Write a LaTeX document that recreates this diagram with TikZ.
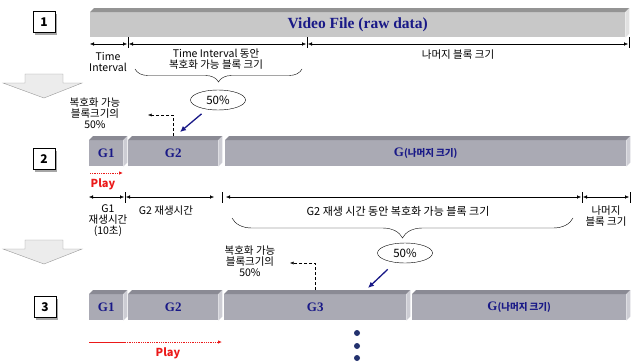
\documentclass[tikz,border=0pt]{standalone}
\usepackage{fontspec}
\setmainfont{Noto Sans CJK KR}
\newfontfamily\tms{Liberation Serif}
\usepackage{xcolor}
\usepackage{tikz}
\usetikzlibrary{shapes.geometric,arrows.meta,decorations.pathreplacing,shadows}
\definecolor{navy}{RGB}{25,25,135}
\definecolor{dotblue}{RGB}{35,50,110}
\definecolor{playred}{RGB}{235,25,25}
\definecolor{barfront}{RGB}{200,200,200}
\definecolor{bartop}{RGB}{148,148,148}
\definecolor{barside}{RGB}{225,225,225}
\definecolor{blkfront}{RGB}{170,170,180}
\definecolor{blktop}{RGB}{138,138,148}
\definecolor{blkside}{RGB}{205,205,212}
\tikzset{
  numbox/.style={draw, fill=white, minimum width=22pt, minimum height=21pt, inner sep=0pt, font=\bfseries\fontsize{12}{12}\selectfont, drop shadow={shadow xshift=2pt, shadow yshift=-2pt, fill=black!35, opacity=1}},
  vbar/.style={fill=barfront, anchor=north west, minimum width=535pt, minimum height=25pt, inner sep=0pt, text=navy, font=\tms\bfseries\fontsize{15.5}{16}\selectfont},
  blk/.style={fill=blkfront, anchor=north west, minimum height=26pt, inner sep=0pt, text=navy, font=\tms\bfseries\fontsize{13}{13}\selectfont},
  note/.style={align=center, inner sep=1pt, font=\fontsize{10.5}{11}\selectfont},
  pct/.style={ellipse, draw, minimum width=55pt, minimum height=20pt, inner sep=0pt, font=\fontsize{11.5}{12}\selectfont},
  dim/.style={{Latex[length=4pt,width=3.5pt]}-{Latex[length=4pt,width=3.5pt]}, thin},
  brc/.style={decorate, decoration={brace, mirror, amplitude=#1}, thin},
  bluearr/.style={navy, line width=1.3pt, -{Latex[length=6pt,width=5.5pt]}},
  dsh/.style={densely dashed, -{Latex[length=3.5pt,width=3pt]}},
  play/.style={playred, thick, -{Latex[length=4pt,width=3.5pt]}},
  playtxt/.style={playred, inner sep=1pt, font=\bfseries\fontsize{11}{11}\selectfont},
  bigarr/.style={draw=gray!80, fill=gray!15},
  dot/.style={circle, fill=dotblue, minimum size=6pt, inner sep=0pt}
}
\newcommand{\rest}{{\rmfamily\bfseries\fontsize{9.5}{10}\selectfont(나머지 크기)}}
\begin{document}
\begin{tikzpicture}[x=1pt,y=-1pt]
\useasboundingbox (0,0) rectangle (631,362);

% step numbers
\node[numbox] (n1) at (44,22) {1};
\node[numbox] (n2) at (44,159) {2};
\node[numbox] (n3) at (45,307) {3};

% hollow down arrows
\foreach \yy in {74,240}
  \filldraw[bigarr] (25,\yy) -- ++(38,0) -- ++(0,9) -- ++(19,0) -- ++(-38,15) -- ++(-41,-15) -- ++(22,0) -- cycle;

% raw file bar
\node[vbar] (vid) at (90,12) {Video File (raw data)};
\fill[bartop] (vid.north west) -- ([xshift=4pt,yshift=4pt]vid.north west) -- ([xshift=4pt,yshift=4pt]vid.north east) -- (vid.north east) -- cycle;
\fill[barside] (vid.north east) -- ([xshift=4pt,yshift=4pt]vid.north east) -- ([xshift=4pt,yshift=4pt]vid.south east) -- (vid.south east) -- cycle;

% blocks of step 2 and 3
\node[blk, minimum width=34pt] (a1) at (89,140) {G1};
\node[blk, minimum width=90pt] (a2) at (128,140) {G2};
\node[blk, minimum width=401pt] (a3) at (225,140) {G\rest};
\node[blk, minimum width=34pt] (b1) at (89,294) {G1};
\node[blk, minimum width=90pt] (b2) at (128,294) {G2};
\node[blk, minimum width=182pt] (b3) at (224,294) {G3};
\node[blk, minimum width=214pt] (b4) at (412,294) {G\rest};
\foreach \b in {a1,a2,a3,b1,b2,b3,b4}{
  \fill[blktop] (\b.north west) -- ([xshift=4pt,yshift=4pt]\b.north west) -- ([xshift=4pt,yshift=4pt]\b.north east) -- (\b.north east) -- cycle;
  \fill[blkside] (\b.north east) -- ([xshift=4pt,yshift=4pt]\b.north east) -- ([xshift=4pt,yshift=4pt]\b.south east) -- (\b.south east) -- cycle;
}

% step 1 sizes
\coordinate (d0) at (90,44);
\coordinate (d1) at (128,44);
\coordinate (d2) at (307,44);
\coordinate (d3) at (629,44);
\draw[dim, shorten >=1pt] (d0) -- (d1);
\draw[dim, shorten <=1pt, shorten >=1pt] (d1) -- (d2);
\draw[dim, shorten <=1pt, shorten >=1pt] (d2) -- (d3);
\foreach \c in {d1,d2,d3}
  \draw ([yshift=7pt]\c) -- ([yshift=-4pt]\c);
\node[note] (tiv) at (108,62) {Time\\Interval};
\node[note] (dec1) at (216,59) {Time Interval 동안\\복호화 가능 블록 크기};
\node[note] (rest1) at (458,55) {나머지 블록 크기};
\coordinate (r1a) at (135,69);
\coordinate (r1b) at (302,69);
\draw[brc=13pt] (r1a) -- (r1b);
\node[pct] (pc1) at (218,100) {50\%};
\node[note] (half1) at (95,113) {복호화 가능\\블록크기의\\50\%};
\coordinate (tg1) at (180,132);
\draw[bluearr, shorten <=7pt] (pc1) -- (tg1);
\coordinate (h1) at (148,115);
\draw[dsh] ([yshift=4pt]a2.north) |- (h1);

% step 2 play
\coordinate (p0) at (90,173);
\coordinate (p1) at (123,173);
\draw[play, densely dotted] (p0) -- (p1);
\node[playtxt] (pl2) at (103,184) {Play};

% step 2 sizes
\coordinate (e0) at (89,197);
\coordinate (e1) at (125,197);
\coordinate (e2) at (222,197);
\coordinate (e3) at (582,197);
\coordinate (e4) at (630,197);
\draw[dim, shorten >=1pt] (e0) -- (e1);
\draw[dim, shorten <=1pt, shorten >=8pt] (e1) -- (e2);
\draw[dim, shorten <=4pt, shorten >=1pt] (e2) -- (e3);
\draw[dim, shorten <=1pt, shorten >=1pt] (e3) -- (e4);
\foreach \c in {e1,e2,e3,e4}
  \draw ([yshift=5pt]\c) -- ([yshift=-6pt]\c);
\node[note] (g1t) at (108,221) {G1\\재생시간\\(10초)};
\node[note] (g2t) at (166,211) {G2 재생시간};
\node[note, font=\fontsize{11}{11}\selectfont] (dec2) at (398,211) {G2 재생 시간 동안 복호화 가능 블록 크기};
\node[note] (rest2) at (606,216) {나머지\\블록 크기};
\coordinate (r2a) at (232,218);
\coordinate (r2b) at (573,218);
\draw[brc=20pt] (r2a) -- (r2b);
\node[pct] (pc2) at (405,253) {50\%};
\node[note] (half2) at (250,261) {복호화 가능\\블록크기의\\50\%};
\coordinate (tg2) at (368,288);
\draw[bluearr, shorten <=10pt] (pc2) -- (tg2);
\coordinate (h2) at (290,263);
\draw[dsh] ([yshift=4pt]b3.north) |- (h2);

% step 3 play
\coordinate (q0) at (89,342);
\coordinate (q1) at (125,342);
\coordinate (q2) at (222,342);
\draw[playred, thick] (q0) -- (q1);
\draw[play, densely dotted] (q1) -- (q2);
\node[playtxt] (pl3) at (168,353) {Play};

% more steps
\foreach \yy [count=\i] in {333,346,358}
  \node[dot] (dt\i) at (357,\yy) {};
\end{tikzpicture}
\end{document}
